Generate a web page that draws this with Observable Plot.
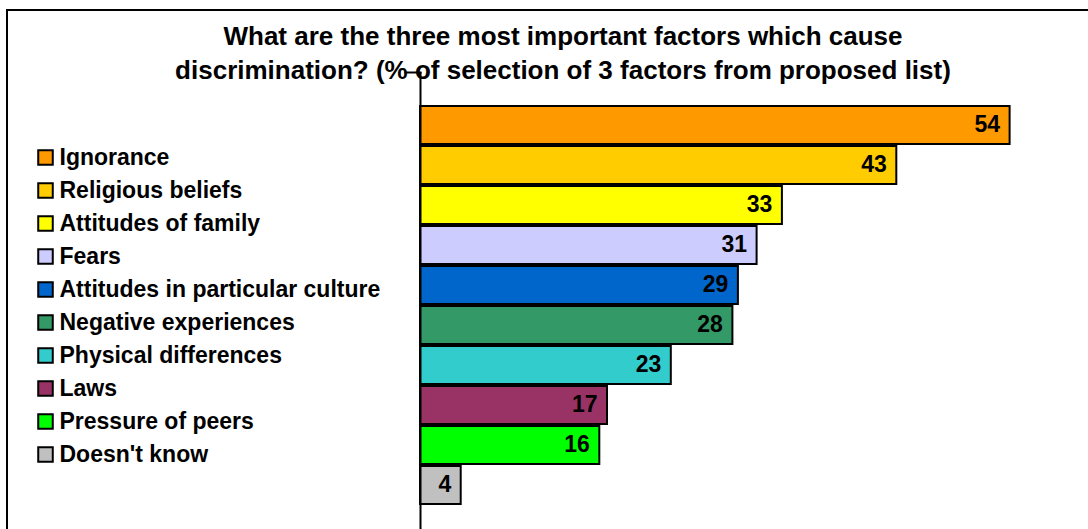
<!DOCTYPE html>
<html>
<head>
<meta charset="utf-8">
<script src="https://cdn.jsdelivr.net/npm/d3@7"></script>
<script src="https://cdn.jsdelivr.net/npm/@observablehq/plot@0.6"></script>
<style>
  html, body { margin: 0; padding: 0; background: white; overflow: hidden; }
  #wrap { position: relative; width: 1088px; height: 529px; overflow: hidden; font-family: "Liberation Sans", Arial, sans-serif; }
  #border { position: absolute; left: 6px; top: 9px; width: 1200px; height: 1000px; border-left: 2px solid #000; border-top: 2px solid #000; }
  #title { position: absolute; left: 63px; width: 1000px; top: 19px; text-align: center; font-weight: bold; font-size: 26px; line-height: 34px; color: #000; }
  .layer { position: absolute; left: 0; top: 0; }
</style>
</head>
<body>
<div id="wrap">
  <div id="border"></div>
  <div id="title">What are the three most important factors which cause<br>discrimination? (% of selection of 3 factors from proposed list)</div>
  <div id="legend" class="layer"></div>
  <div id="chart" class="layer"></div>
</div>
<script>
const categories = ["Ignorance", "Religious beliefs", "Attitudes of family", "Fears", "Attitudes in particular culture", "Negative experiences", "Physical differences", "Laws", "Pressure of peers", "Doesn't know"];
const values = [53.6, 43.3, 32.9, 30.6, 28.9, 28.4, 22.8, 17.0, 16.3, 3.7];
const valueLabels = ["54", "43", "33", "31", "29", "28", "23", "17", "16", "4"];
const colors = ["#FF9900", "#FFCC00", "#FFFF00", "#CCCCFF", "#0066CC", "#339966", "#33CCCC", "#993366", "#00FF00", "#C0C0C0"];

const data = categories.map((c, i) => ({cat: c, value: values[i], label: valueLabels[i]}));
const font = "Liberation Sans, Arial, sans-serif";

const W = 1088, H = 529, mL = 420, mR = 8;
const chart = Plot.plot({
  width: W, height: H,
  marginLeft: mL, marginRight: mR, marginTop: 103, marginBottom: 22,
  style: {background: "transparent", fontFamily: font},
  x: {domain: [0, 60], axis: null},
  y: {domain: categories, padding: 0.04, axis: null},
  color: {domain: categories, range: colors},
  marks: [
    Plot.barX(data, {y: "cat", x: "value", fill: "cat", stroke: "#000", strokeWidth: 2}),
    Plot.text(data, {y: "cat", x: "value", text: "label", textAnchor: "end", dx: -10, dy: -1, fontSize: 23, fontWeight: "bold", fill: "#000"}),
    Plot.ruleX([0], {stroke: "#000", strokeWidth: 2, insetTop: -31, insetBottom: -22}),
    Plot.frame({anchor: "top", stroke: "#000", strokeWidth: 2, insetTop: -31, insetLeft: -15, insetRight: W - mL - mR})
  ]
});
document.getElementById("chart").appendChild(chart);

const legend = Plot.plot({
  width: 400, height: H,
  marginLeft: 0, marginRight: 0, marginTop: 153, marginBottom: 72,
  style: {background: "transparent", fontFamily: font},
  x: {axis: null},
  y: {type: "point", domain: categories, padding: 0, axis: null},
  color: {domain: categories, range: colors},
  marks: [
    Plot.dot(data, {y: "cat", frameAnchor: "left", dx: 45, symbol: "square", r: 8.2, fill: "cat", stroke: "#000", strokeWidth: 2}),
    Plot.text(data, {y: "cat", text: "cat", frameAnchor: "left", dx: 59, textAnchor: "start", fontSize: 23, fontWeight: "bold", fill: "#000"})
  ]
});
document.getElementById("legend").appendChild(legend);
</script>
</body>
</html>
